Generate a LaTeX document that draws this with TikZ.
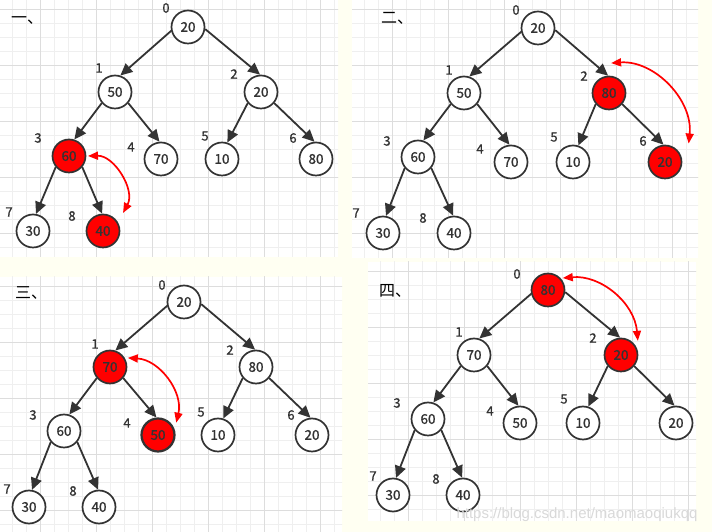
\documentclass[tikz,border=0pt]{standalone}
\usepackage{fontspec}
\setmainfont{Noto Sans CJK SC}
\newfontfamily\numfont[FakeBold=1]{Noto Sans CJK SC}
\newfontfamily\markfont{Liberation Sans}
\usetikzlibrary{arrows.meta}
\definecolor{ink}{HTML}{333333}
\definecolor{paper}{RGB}{255,255,242}
\definecolor{minorline}{HTML}{EFEFEF}
\definecolor{majorline}{HTML}{DDDDDD}

\begin{document}
\begin{tikzpicture}[x=1pt,y=1pt,
  heap/.style={circle, draw=ink, line width=1.7pt, fill=white, minimum size=33pt, inner sep=0pt, text=ink, font=\numfont\fontsize{13.5}{13.5}\selectfont},
  hot/.style={heap, fill=red},
  idx/.style={inner sep=0pt, text=ink, font=\numfont\fontsize{13}{13}\selectfont},
  title/.style={inner sep=0pt, anchor=west, font=\fontsize{16}{16}\selectfont},
  edge/.style={draw=ink, line width=1.8pt, -{Triangle[length=12pt,width=11pt]}},
  swap/.style={draw=red, line width=1.7pt, {Triangle[length=10pt,width=8pt]}-{Triangle[length=10pt,width=8pt]}},
  minorgrid/.style={draw=minorline, line width=0.8pt},
  majorgrid/.style={draw=majorline, line width=0.8pt}]
\useasboundingbox (0,0) rectangle (712,532);
\fill[paper] (0,0) rectangle (712,532);

% grid panels
\foreach \xa/\ya/\xb/\yb in {0/275/338/532, 352/274/698/532, 0/0/342/255, 368/11/696/270} {
  \begin{scope}
    \clip (\xa,\ya) rectangle (\xb,\yb);
    \fill[white] (\xa,\ya) rectangle (\xb,\yb);
    \draw[minorgrid, step=14, shift={(\xa+12.7,\yb-9)}] (-28,-300) grid (360,28);
    \draw[majorgrid, step=56, shift={(\xa+40.7,\yb-9)}] (-56,-336) grid (392,56);
  \end{scope}
}

% step one
\node[title] (t1) at (11,511) {一、};
\node[heap] (a0) at (188,505) {20};
\node[heap] (a1) at (115,440) {50};
\node[heap] (a2) at (261,440) {20};
\node[hot]  (a3) at (69,376)  {60};
\node[heap] (a4) at (161,373) {70};
\node[heap] (a5) at (222,373) {10};
\node[heap] (a6) at (316,373) {80};
\node[heap] (a7) at (33,301)  {30};
\node[hot]  (a8) at (103,301) {40};
\node[idx] (la0) at (166,524) {0};
\node[idx] (la1) at (99,464)  {1};
\node[idx] (la2) at (234,458) {2};
\node[idx] (la3) at (38,394)  {3};
\node[idx] (la4) at (131,385) {4};
\node[idx] (la5) at (205,396) {5};
\node[idx] (la6) at (293,394) {6};
\node[idx] (la7) at (9,320)   {7};
\node[idx] (la8) at (72,316)  {8};

% step two
\node[title] (t2) at (381,514) {二、};
\node[heap] (b0) at (538,504) {20};
\node[heap] (b1) at (464,439) {50};
\node[hot]  (b2) at (609,439) {80};
\node[heap] (b3) at (418,375) {60};
\node[heap] (b4) at (511,370) {70};
\node[heap] (b5) at (573,370) {10};
\node[hot]  (b6) at (665,370) {20};
\node[heap] (b7) at (383,299) {30};
\node[heap] (b8) at (454,299) {40};
\node[idx] (lb0) at (516,522) {0};
\node[idx] (lb1) at (449,462) {1};
\node[idx] (lb2) at (584,456) {2};
\node[idx] (lb3) at (387,391) {3};
\node[idx] (lb4) at (480,383) {4};
\node[idx] (lb5) at (554,395) {5};
\node[idx] (lb6) at (643,391) {6};
\node[idx] (lb7) at (356,319) {7};
\node[idx] (lb8) at (423,314) {8};

% step three
\node[title] (t3) at (15,239) {三、};
\node[heap] (c0) at (184,230) {20};
\node[hot]  (c1) at (110,165) {70};
\node[heap] (c2) at (256,165) {80};
\node[heap] (c3) at (64,101)  {60};
\node[hot, line width=2.2pt] (c4) at (158,97) {50};
\node[heap] (c5) at (218,97)  {10};
\node[heap] (c6) at (312,97)  {20};
\node[heap] (c7) at (29,25)   {30};
\node[heap] (c8) at (99,25)   {40};
\node[idx] (lc0) at (162,247) {0};
\node[idx] (lc1) at (95,188)  {1};
\node[idx] (lc2) at (230,182) {2};
\node[idx] (lc3) at (33,117)  {3};
\node[idx] (lc4) at (127,109) {4};
\node[idx] (lc5) at (201,120) {5};
\node[idx] (lc6) at (291,117) {6};
\node[idx] (lc7) at (7,43)    {7};
\node[idx] (lc8) at (73,41)   {8};

% step four
\node[title] (t4) at (379,241) {四、};
\node[hot]  (d0) at (548,242) {80};
\node[heap] (d1) at (474,177) {70};
\node[hot]  (d2) at (621,177) {20};
\node[heap] (d3) at (428,113) {60};
\node[heap] (d4) at (520,109) {50};
\node[heap] (d5) at (583,109) {10};
\node[heap] (d6) at (676,109) {20};
\node[heap] (d7) at (393,37)  {30};
\node[heap] (d8) at (463,37)  {40};
\node[idx] (ld0) at (517,258) {0};
\node[idx] (ld1) at (459,200) {1};
\node[idx] (ld2) at (593,194) {2};
\node[idx] (ld3) at (397,129) {3};
\node[idx] (ld4) at (490,121) {4};
\node[idx] (ld5) at (564,133) {5};
\node[idx] (ld7) at (373,56)  {7};
\node[idx] (ld8) at (436,53)  {8};

% tree edges: parent side -> child top
\foreach \p in {a,b,c,d}
  \foreach \u/\v/\s/\e in {0/1/193/72, 0/2/-7/93, 1/3/220/72, 1/4/-40/95,
                           2/5/220/72, 2/6/-40/95, 3/7/220/80, 3/8/-40/93}
    \draw[edge] (\p\u.\s) -- (\p\v.\e);

% swaps
\coordinate (sa1) at ([shift={(0:19)}]a3.center);
\coordinate (sa2) at ([shift={(42:27)}]a8.center);
\coordinate (sb1) at ([shift={(86:30)}]b2.center);
\coordinate (sb2) at ([shift={(38:30)}]b6.center);
\coordinate (sc1) at ([shift={(27:20)}]c1.center);
\coordinate (sc2) at ([shift={(34:22)}]c4.center);
\coordinate (sd1) at ([shift={(39:19)}]d0.center);
\coordinate (sd2) at ([shift={(40:22)}]d2.center);
\draw[swap] (sa1) to[bend left=60] (sa2);
\draw[swap] (sb1) to[bend left=50] (sb2);
\draw[swap] (sc1) to[bend left=50] (sc2);
\draw[swap] (sd1) to[bend left=45] (sd2);

\node[text=gray!30, font=\markfont\fontsize{15}{15}\selectfont] (mark) at (577,17) {https://blog.csdn.net/maomaoqiukqq};
\end{tikzpicture}
\end{document}
